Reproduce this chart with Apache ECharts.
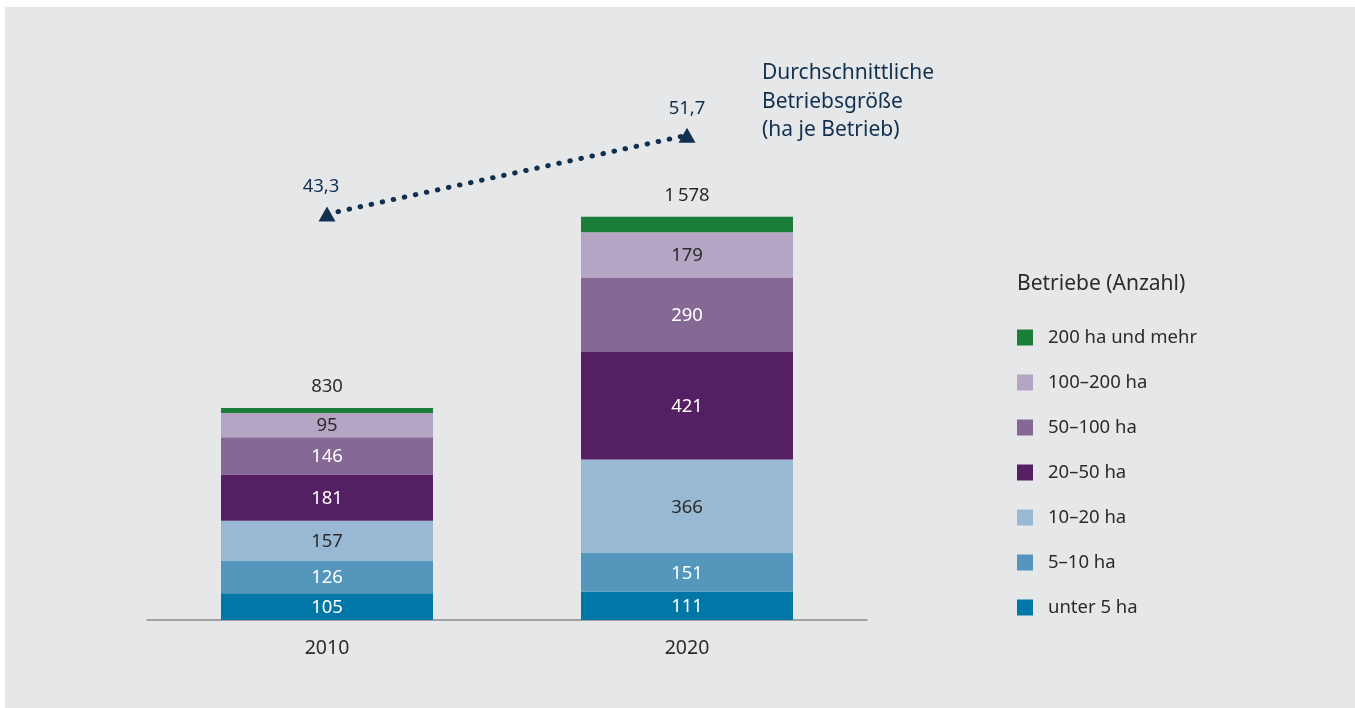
<!DOCTYPE html>
<html>
<head>
<meta charset="utf-8">
<script src="https://cdn.jsdelivr.net/npm/echarts@6/dist/echarts.min.js"></script>
<style>
    html, body { margin: 0; padding: 0; background: #ffffff; }
    #chart { position: absolute; left: 5px; top: 7px; width: 1350px; height: 701px; background: #e6e7e9; }
</style>
</head>
<body>
<div id="chart"></div>
<script>
// data
var years = ['2010', '2020'];
var under5 = [105, 111];
var ha5to10 = [126, 151];
var ha10to20 = [157, 366];
var ha20to50 = [181, 421];
var ha50to100 = [146, 290];
var ha100to200 = [95, 179];
var ha200plus = [20, 60];
var totals = [830, 1578];
var avgSize = [43.3, 51.7];

var font = '"Noto Sans", "Open Sans", sans-serif';
var navy = '#11304f';
var dark = '#2b2b2b';

function fmtNum(v) {
    return String(v).replace(/\B(?=(\d{3})+(?!\d))/g, '\u2009');
}

function barSeries(name, data, color, textColor) {
    return {
        name: name,
        type: 'bar',
        stack: 'betriebe',
        barWidth: 212,
        data: data,
        itemStyle: { color: color },
        label: {
            show: true,
            position: 'inside',
            offset: [0, 1],
            color: textColor,
            fontFamily: font,
            fontSize: 18.5
        },
        emphasis: { disabled: true }
    };
}

var chart = echarts.init(document.getElementById('chart'));

var series = [
    barSeries('unter 5 ha', under5, '#0077a6', '#ffffff'),
    barSeries('5\u201310 ha', ha5to10, '#5596bd', '#ffffff'),
    barSeries('10\u201320 ha', ha10to20, '#98b8d4', dark),
    barSeries('20\u201350 ha', ha20to50, '#542063', '#ffffff'),
    barSeries('50\u2013100 ha', ha50to100, '#856894', '#ffffff'),
    barSeries('100\u2013200 ha', ha100to200, '#b5a5c5', dark),
    barSeries('200 ha und mehr', ha200plus, '#1b7d3a', dark)
];
// top segment carries the total above the bar
series[6].label = {
    show: true,
    position: 'top',
    distance: 12,
    color: dark,
    fontFamily: font,
    fontSize: 18.5,
    formatter: function(p) { return fmtNum(totals[p.dataIndex]); }
};

series.push({
    name: 'Durchschnittliche Betriebsgröße',
    type: 'line',
    yAxisIndex: 1,
    data: [
        { value: avgSize[0], label: { offset: [-6, 0] } },
        { value: avgSize[1] }
    ],
    symbol: 'triangle',
    symbolSize: [17, 15],
    itemStyle: { color: navy },
    lineStyle: { color: navy, width: 5, type: [0.5, 10.8], cap: 'round' },
    label: {
        show: true,
        position: 'top',
        distance: 10,
        color: navy,
        fontFamily: font,
        fontSize: 18.5,
        formatter: function(p) { return String(p.value).replace('.', ','); }
    },
    z: 5
});

var legendNames = [];
for (var i = series.length - 2; i >= 0; i--)
    legendNames.push(series[i].name);

chart.setOption({
    animation: false,
    title: [{
        text: 'Betriebe (Anzahl)',
        left: 1012,
        top: 267,
        padding: 0,
        textStyle: { color: dark, fontFamily: font, fontSize: 21, fontWeight: 'normal' }
    }, {
        text: 'Durchschnittliche\nBetriebsgröße\n(ha je Betrieb)',
        left: 757,
        top: 52,
        padding: 0,
        textStyle: { color: navy, fontFamily: font, fontSize: 21, fontWeight: 'normal', lineHeight: 28.5 }
    }],
    legend: {
        data: legendNames,
        orient: 'vertical',
        left: 1012,
        top: 321,
        padding: 0,
        icon: 'rect',
        itemWidth: 16,
        itemHeight: 16,
        itemGap: 26,
        selectedMode: false,
        textStyle: { color: dark, fontFamily: font, fontSize: 18.5, padding: [0, 0, 0, 10] }
    },
    grid: { left: 142, width: 720, top: 102, bottom: 88 },
    xAxis: {
        type: 'category',
        data: years,
        axisTick: { show: false },
        axisLine: { lineStyle: { color: '#8a8a8a', width: 1.5 } },
        axisLabel: { color: dark, fontFamily: font, fontSize: 19.5, margin: 18 }
    },
    yAxis: [{
        type: 'value',
        min: 0,
        max: 2000,
        show: false
    }, {
        type: 'value',
        min: 0,
        max: 54.5,
        show: false
    }],
    series: series
});
</script>
</body>
</html>
